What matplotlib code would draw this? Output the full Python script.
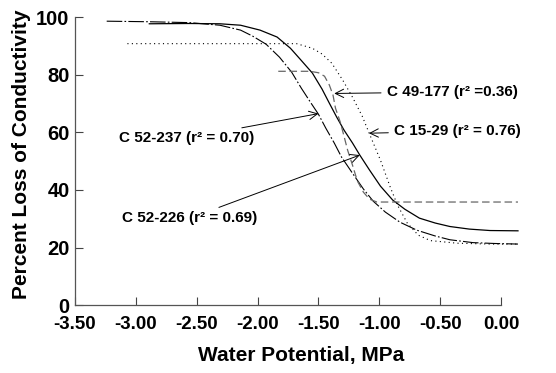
import matplotlib
matplotlib.use('Agg')
import matplotlib.pyplot as plt

plt.rcParams['font.family'] = ['Liberation Sans', 'DejaVu Sans']
plt.rcParams['font.weight'] = 'bold'

# C 52-237 (dash-dot)
x_237 = [-3.24, -2.88, -2.56, -2.31, -2.14, -2.04, -1.93, -1.82, -1.72, -1.64, -1.56, -1.50,
         -1.44, -1.37, -1.31, -1.22, -1.13, -1.05, -0.95, -0.83, -0.69, -0.54, -0.42, -0.23,
         -0.05, 0.14]
y_237 = [98.6, 98.4, 98.1, 97.2, 95.5, 93.4, 90.6, 86.1, 80.9, 75.3, 70.1, 66.3,
         61.5, 56.3, 51.4, 45.8, 40.3, 36.1, 32.3, 28.8, 26.0, 24.0, 22.7, 21.7,
         21.4, 21.2]

# C 52-226 (solid)
x_226 = [-2.89, -2.56, -2.31, -2.14, -1.98, -1.84, -1.73, -1.65, -1.55, -1.47, -1.41, -1.35,
         -1.29, -1.22, -1.16, -1.08, -0.99, -0.89, -0.79, -0.67, -0.54, -0.42, -0.26, -0.09, 0.14]
y_226 = [97.7, 97.8, 97.7, 97.2, 95.5, 93.1, 89.2, 85.4, 80.6, 75.0, 70.1, 65.3,
         60.8, 56.3, 52.1, 46.9, 41.3, 36.5, 33.3, 30.2, 28.5, 27.3, 26.4, 25.9, 25.8]

# C 49-177 (dashed)
x_177 = [-1.83, -1.57, -1.50, -1.45, -1.41, -1.38, -1.36, -1.32, -1.29, -1.26, -1.22, -1.18,
         -1.13, -1.08, -1.02, 0.14]
y_177 = [81.2, 81.2, 80.7, 79.5, 76.4, 72.9, 68.4, 63.5, 58.7, 53.8, 48.6, 43.1,
         39.2, 36.8, 35.8, 35.8]

# C 15-29 (dotted)
x_1529 = [-3.07, -1.68, -1.55, -1.47, -1.39, -1.30, -1.22, -1.14, -1.08, -0.99, -0.91, -0.85,
          -0.77, -0.68, -0.58, -0.36, -0.09, 0.14]
y_1529 = [90.8, 90.8, 89.2, 87.2, 84.0, 78.1, 72.2, 65.6, 59.4, 50.3, 41.0, 34.7,
          28.5, 24.3, 22.4, 21.5, 21.2, 21.2]

xticks = [-3.5, -3.0, -2.5, -2.0, -1.5, -1.0, -0.5, 0.0]
yticks = [0, 20, 40, 60, 80, 100]

fig = plt.figure(figsize=(5.56, 3.73), dpi=100)
ax = fig.add_axes([0.135, 0.182, 0.766, 0.772])

ax.plot(x_237, y_237, color='black', lw=0.8, ls=(0, (14, 2, 1.5, 2)), clip_on=False)
ax.plot(x_226, y_226, color='black', lw=0.9, clip_on=False)
ax.plot(x_177, y_177, color='#666666', lw=0.9, ls=(0, (6, 3)), clip_on=False)
ax.plot(x_1529, y_1529, color='black', lw=0.8, ls=(0, (1, 3)), clip_on=False)

arrow = dict(arrowstyle='->', lw=0.7, color='black', mutation_scale=15, shrinkB=0)
fs = 11
ax.annotate('C 49-177 (r² =0.36)', xy=(-1.37, 73.5), xytext=(-0.94, 74.0),
            ha='left', va='center', fontsize=fs, fontweight='bold', arrowprops=arrow)
ax.annotate('C 15-29 (r² = 0.76)', xy=(-1.085, 59.7), xytext=(-0.88, 60.4),
            ha='left', va='center', fontsize=fs, fontweight='bold', arrowprops=arrow)
ax.annotate('C 52-237 (r² = 0.70)', xy=(-1.50, 66.5), xytext=(-2.03, 58.0),
            ha='right', va='center', fontsize=fs, fontweight='bold', arrowprops=arrow)
ax.annotate('C 52-226 (r² = 0.69)', xy=(-1.16, 52.1), xytext=(-2.0, 30.2),
            ha='right', va='center', fontsize=fs, fontweight='bold', arrowprops=arrow)

ax.set_xlim(-3.5, 0)
ax.set_ylim(0, 100)
ax.set_xticks(xticks)
ax.set_xticklabels(['%.2f' % v for v in xticks])
ax.set_yticks(yticks)
ax.tick_params(direction='in', length=6, width=0.8, color='#444444', labelsize=13.5)
ax.tick_params(axis='y', labelsize=14.5)
ax.tick_params(axis='x', pad=8)
ax.tick_params(axis='y', pad=4)
for lab in ax.get_xticklabels() + ax.get_yticklabels():
    lab.set_fontweight('bold')

for s in ['top', 'right']:
    ax.spines[s].set_visible(False)
for s in ['left', 'bottom']:
    ax.spines[s].set_color('#555555')
    ax.spines[s].set_linewidth(0.9)

ax.set_xlabel('Water Potential, MPa', fontsize=15, fontweight='bold', labelpad=9)
ax.set_ylabel('Percent Loss of Conductivity', fontsize=15, fontweight='bold', labelpad=4)
ax.xaxis.label.set_x(0.53)
ax.yaxis.label.set_y(0.525)

fig.savefig('out.png', dpi=100)
